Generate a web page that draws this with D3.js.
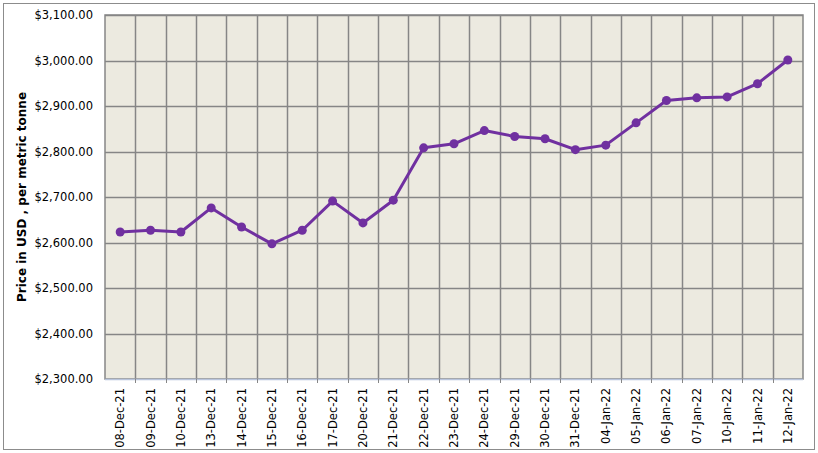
<!DOCTYPE html>
<html>
<head>
<meta charset="utf-8">
<script src="https://cdn.jsdelivr.net/npm/d3@7"></script>
<style>
  body { margin: 0; background: #fff; }
  text { font-family: "DejaVu Sans", Tahoma, sans-serif; }
</style>
</head>
<body>
<script>
const dates = ['08-Dec-21', '09-Dec-21', '10-Dec-21', '13-Dec-21', '14-Dec-21', '15-Dec-21',
  '16-Dec-21', '17-Dec-21', '20-Dec-21', '21-Dec-21', '22-Dec-21', '23-Dec-21', '24-Dec-21',
  '29-Dec-21', '30-Dec-21', '31-Dec-21', '04-Jan-22', '05-Jan-22', '06-Jan-22', '07-Jan-22',
  '10-Jan-22', '11-Jan-22', '12-Jan-22']
const prices = [2623, 2627, 2623, 2676, 2634, 2597, 2627, 2691, 2643, 2693, 2808, 2817, 2846,
  2833, 2828, 2804, 2814, 2863, 2912, 2918, 2920, 2949, 3001]
const yTicks = [2300, 2400, 2500, 2600, 2700, 2800, 2900, 3000, 3100]

const W = 818, H = 453
const margin = { top: 15, right: 15, bottom: 74, left: 105 }
const width = W - margin.left - margin.right
const height = H - margin.top - margin.bottom

const svg = d3.select('body').append('svg')
  .attr('width', W)
  .attr('height', H)

// chart frame
svg.append('rect')
  .attr('x', 3.5).attr('y', 3.5)
  .attr('width', W - 7).attr('height', H - 7)
  .attr('fill', '#fff')
  .attr('stroke', '#8c8c8c')

const g = svg.append('g')
  .attr('transform', 'translate(' + margin.left + ',' + margin.top + ')')

const x = d3.scaleBand()
  .domain(dates)
  .range([0, width])

const y = d3.scaleLinear()
  .domain([2300, 3100])
  .range([height, 0])

g.append('rect')
  .attr('width', width)
  .attr('height', height)
  .attr('fill', '#ECEAE0')

// vertical grid at category boundaries
g.append('g')
  .selectAll('line')
  .data(dates.slice(1))
  .enter()
  .append('line')
  .attr('x1', d => Math.round(x(d)) + 0.5)
  .attr('x2', d => Math.round(x(d)) + 0.5)
  .attr('y1', 0)
  .attr('y2', height)
  .attr('stroke', '#868686')
  .attr('stroke-width', 1.5)

// horizontal grid
g.append('g')
  .selectAll('line')
  .data(yTicks.slice(1))
  .enter()
  .append('line')
  .attr('x1', 0)
  .attr('x2', width)
  .attr('y1', d => Math.round(y(d)) + 0.5)
  .attr('y2', d => Math.round(y(d)) + 0.5)
  .attr('stroke', '#868686')
  .attr('stroke-width', 1.5)

g.append('rect')
  .attr('width', width)
  .attr('height', height)
  .attr('fill', 'none')
  .attr('stroke', '#868686')
  .attr('stroke-width', 1.5)

// bottom axis line
g.append('line')
  .attr('x1', 0).attr('x2', width)
  .attr('y1', height + 0.5).attr('y2', height + 0.5)
  .attr('stroke', '#b8c4dc')
  .attr('stroke-width', 1.5)

// x tick marks
g.append('g')
  .selectAll('line')
  .data(dates.slice(1))
  .enter()
  .append('line')
  .attr('x1', d => Math.round(x(d)) + 0.5)
  .attr('x2', d => Math.round(x(d)) + 0.5)
  .attr('y1', height)
  .attr('y2', height + 4)
  .attr('stroke', '#868686')

// y labels
const fmt = d3.format(',.2f')
g.append('g')
  .selectAll('text')
  .data(yTicks)
  .enter()
  .append('text')
  .attr('x', -12)
  .attr('y', d => y(d))
  .attr('dy', '0.35em')
  .attr('text-anchor', 'end')
  .attr('font-size', 11.5)
  .attr('fill', '#000')
  .text(d => '$' + fmt(d))

// x labels
g.append('g')
  .selectAll('text')
  .data(dates)
  .enter()
  .append('text')
  .attr('transform', d => 'translate(' + (x(d) + x.bandwidth() / 2) + ',' + (height + 9) + ') rotate(-90)')
  .attr('dy', '0.35em')
  .attr('text-anchor', 'end')
  .attr('font-size', 11.5)
  .attr('fill', '#000')
  .text(d => d)

// y axis title
svg.append('text')
  .attr('transform', 'translate(22,' + (margin.top + height / 2) + ') rotate(-90)')
  .attr('dy', '0.35em')
  .attr('text-anchor', 'middle')
  .attr('font-size', 12)
  .attr('font-weight', 'bold')
  .text('Price in USD , per metric tonne')

const cx = d => x(d) + x.bandwidth() / 2

g.append('path')
  .datum(prices)
  .attr('fill', 'none')
  .attr('stroke', '#7030A0')
  .attr('stroke-width', 3)
  .attr('stroke-linejoin', 'round')
  .attr('d', d3.line()
    .x((d, i) => cx(dates[i]))
    .y(d => y(d)))

g.append('g')
  .selectAll('circle')
  .data(prices)
  .enter()
  .append('circle')
  .attr('cx', (d, i) => cx(dates[i]))
  .attr('cy', d => y(d))
  .attr('r', 4.5)
  .attr('fill', '#7030A0')
</script>
</body>
</html>
